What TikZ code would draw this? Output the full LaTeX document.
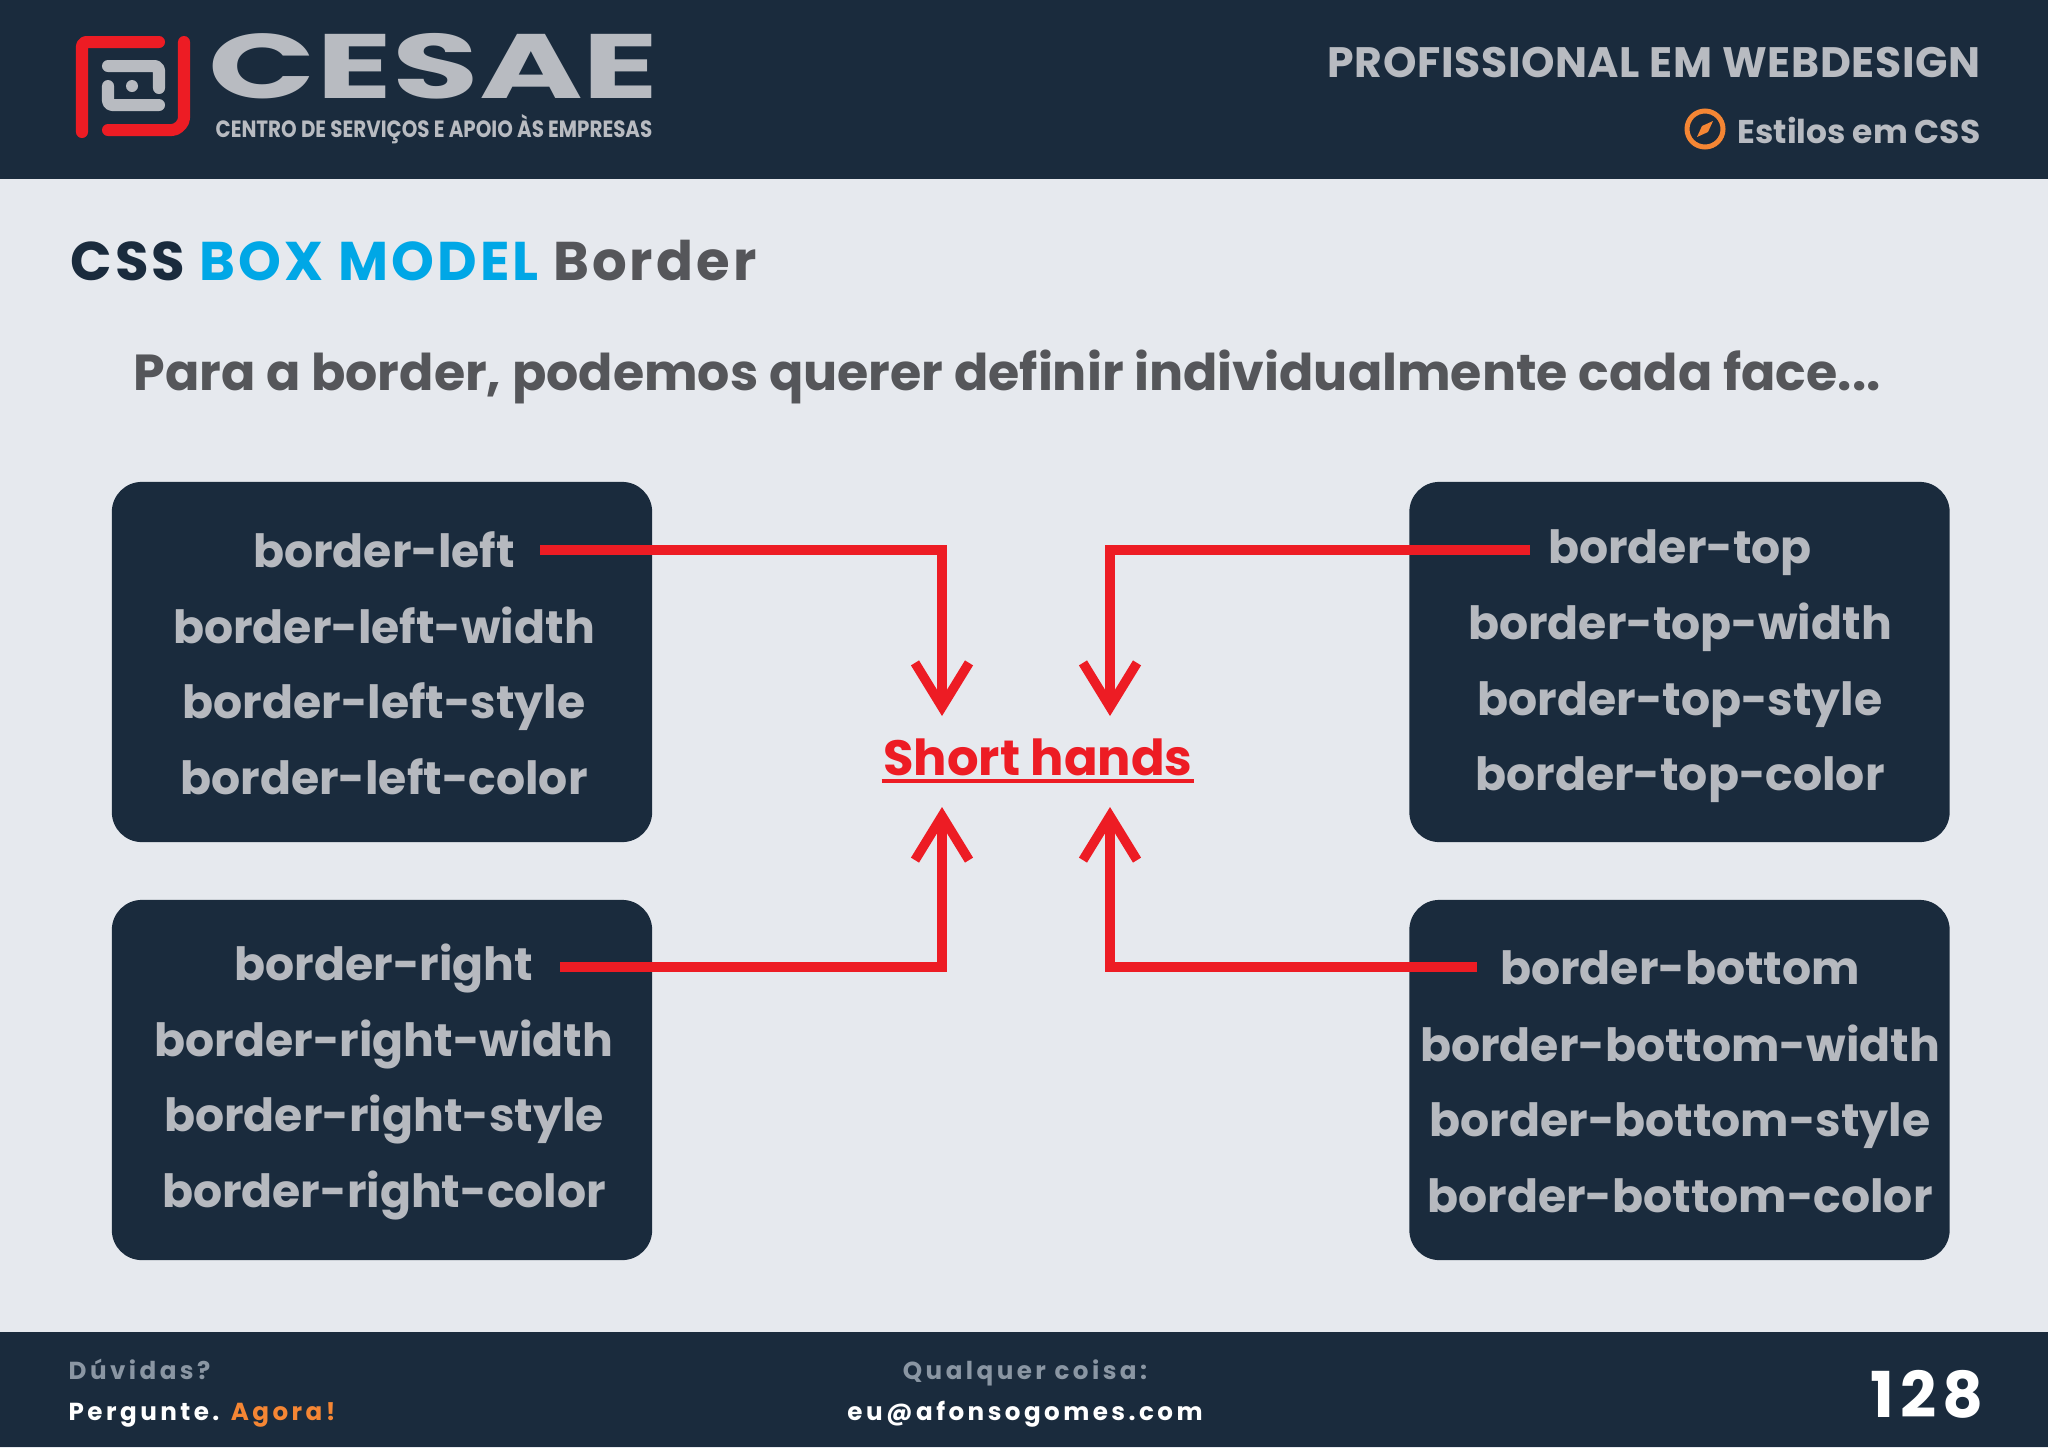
\documentclass[tikz,border=0pt]{standalone}
\usepackage{fontspec}
\usepackage{xcolor}
\usetikzlibrary{arrows.meta,calc}
\setmainfont{Poppins}
\definecolor{navy}{HTML}{1A2B3D}
\definecolor{pagebg}{HTML}{E6E9EE}
\definecolor{logogray}{HTML}{B8BBC1}
\definecolor{boxgray}{HTML}{B6B9BF}
\definecolor{titleblue}{HTML}{00A7E6}
\definecolor{subgray}{HTML}{55565A}
\definecolor{cssred}{HTML}{ED1C24}
\definecolor{accent}{HTML}{F58634}
\definecolor{footgray}{HTML}{8A96A3}
\newcommand{\spaced}[1]{\addfontfeature{LetterSpace=#1}}
\tikzset{
  dbox/.style={fill=navy,rounded corners=0.3cm,minimum width=5.4cm,minimum height=3.6cm,inner sep=0pt},
  boxtext/.style={text=boxgray,font=\fontsize{13}{15}\selectfont\bfseries,inner sep=0pt,text height=11pt,text depth=1pt},
  redline/.style={draw=cssred,line width=0.095cm,-{Straight Barb[length=0.44cm,width=0.54cm]}},
  logoline/.style={line width=0.12cm,line cap=round,line join=round,rounded corners=0.04cm},
  foottext/.style={inner sep=0pt,font=\fontsize{7}{8}\selectfont\bfseries\spaced{14},text height=5pt,text depth=1.5pt}
}
\begin{document}
\begin{tikzpicture}[x=0.01cm,y=-0.01cm]
            \useasboundingbox (0,0) rectangle (2048,1448);
            \fill[pagebg] (0,0) rectangle (2048,1448);
            \fill[navy] (0,0) rectangle (2048,179);
            \fill[navy] (0,1332) rectangle (2048,1447);

            % logo
            \draw[logoline,cssred] (82,132) -- (82,42) -- (159,42);
            \draw[logoline,cssred] (184,42) -- (184,122) -- (176,130) -- (108,130);
            \draw[logoline,logogray] (108,66) -- (159,66) -- (159,88);
            \draw[logoline,logogray] (108,86) -- (108,105) -- (159,105);
            \fill[logogray] (132,86) circle (6);
            \node (cesae) at (434,67) [inner sep=0pt,text=logogray,text height=18pt,text depth=0pt] {\scalebox{1.54}[1]{\fontsize{26}{28}\selectfont\bfseries CESAE}};
            \node (centro) at (434,129) [inner sep=0pt,text=logogray] {\scalebox{0.843}[1]{\fontsize{6.7}{8}\selectfont\bfseries CENTRO DE SERVIÇOS E APOIO ÀS EMPRESAS}};

            % header right
            \node (course) at (1981,62) [anchor=east,inner sep=0pt,text=logogray] {\fontsize{12.1}{14}\selectfont\bfseries\spaced{1.5}PROFISSIONAL EM WEBDESIGN};
            \node (topic) at (1981,130) [anchor=east,inner sep=0pt,text=logogray] {\fontsize{9.35}{12}\selectfont\bfseries Estilos em CSS};
            \draw[accent,line width=0.05cm] (1705,129) circle (18);
            \fill[accent] (1713,121) -- (1708,132) -- (1697,137) -- (1702,126) -- cycle;

            % titles
            \node (title) at (70,261) [anchor=west,inner sep=0pt,text=navy] {\fontsize{15.5}{18}\selectfont\bfseries\spaced{5.6}CSS \textcolor{titleblue}{BOX MODEL} \textcolor{subgray}{Border}};
            \node (intro) at (1007,377) [inner sep=0pt,text=subgray] {\fontsize{14.4}{17}\selectfont\bfseries Para a border, podemos querer definir individualmente cada face...};

            % boxes
            \node (boxleft) at (382,662) [dbox] {};
            \node (boxright) at (382,1080) [dbox] {};
            \node (boxtop) at (1679.5,662) [dbox] {};
            \node (boxbottom) at (1679.5,1080) [dbox] {};

            \node (bleft) at (384,550) [boxtext,minimum width=3.1cm] {border-left};
            \node (bleftw) at (384,625.6) [boxtext] {border-left-width};
            \node (blefts) at (384,701) [boxtext] {border-left-style};
            \node (bleftc) at (384,777) [boxtext] {border-left-color};

            \node (bright) at (384,963) [boxtext,minimum width=3.5cm] {border-right};
            \node (brightw) at (384,1038.5) [boxtext] {border-right-width};
            \node (brights) at (384,1114) [boxtext] {border-right-style};
            \node (brightc) at (384,1190) [boxtext] {border-right-color};

            \node (btop) at (1680,546) [boxtext,minimum width=2.98cm] {border-top};
            \node (btopw) at (1680,622) [boxtext] {border-top-width};
            \node (btops) at (1680,697.5) [boxtext] {border-top-style};
            \node (btopc) at (1680,773) [boxtext] {border-top-color};

            \node (bbottom) at (1680,967) [boxtext,minimum width=4.04cm] {border-bottom};
            \node (bbottomw) at (1680,1043.5) [boxtext] {border-bottom-width};
            \node (bbottoms) at (1680,1119) [boxtext] {border-bottom-style};
            \node (bbottomc) at (1680,1195) [boxtext] {border-bottom-color};

            % short hands
            \node (shands) at (1038,759) [inner sep=0pt,minimum width=3.11cm,text=cssred,font=\fontsize{14.1}{16}\selectfont\bfseries,text height=10.5pt,text depth=1.4pt] {Short hands};
            \draw[cssred,line width=0.04cm] (shands.south west) -- (shands.south east);

            \coordinate (tipa) at (942,716);
            \coordinate (tipb) at (1110,716);
            \coordinate (tipc) at (942,807);
            \coordinate (tipd) at (1110,807);
            \draw[redline] (bleft.east) -| (tipa);
            \draw[redline] ($(btop.west)+(0,4)$) -| (tipb);
            \draw[redline] ($(bright.east)+(0,4)$) -| (tipc);
            \draw[redline] (bbottom.west) -| (tipd);

            % footer
            \node (ask) at (68,1373) [anchor=west,foottext,text=footgray] {Dúvidas?};
            \node (askb) at (68,1414) [anchor=west,foottext,text=white] {Pergunte. \textcolor{accent}{Agora!}};
            \node (any) at (1025,1373) [foottext,text=footgray] {Qualquer coisa:};
            \node (mail) at (1025,1414) [foottext,text=white] {eu@afonsogomes.com};
            \node (page) at (1984,1394) [anchor=east,inner sep=0pt,text=white] {\fontsize{18}{20}\selectfont\bfseries\spaced{9}128};
        \end{tikzpicture}
\end{document}
